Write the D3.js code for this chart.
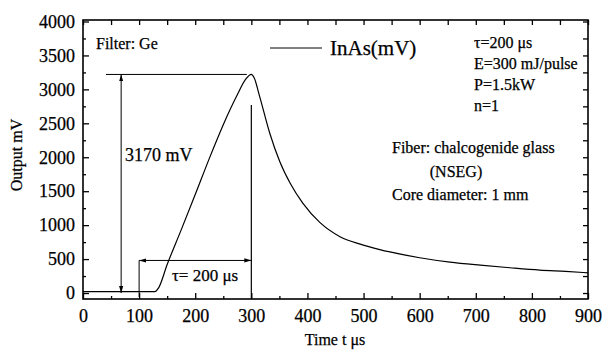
<!DOCTYPE html>
<html>
<head>
<meta charset="utf-8">
<script src="https://cdn.jsdelivr.net/npm/d3@7"></script>
<style>
body { margin:0; background:#fff; }
text { font-family: "Liberation Serif", "DejaVu Serif", serif; fill:#000; stroke:#000; stroke-width:0.25px; }
</style>
</head>
<body>
<script>
var w = 603, h = 352;

// InAs detector output
var timeUs = [0, 50, 100, 128, 135, 150, 175, 200, 225, 250, 275, 290, 300, 305, 315, 333, 351, 369, 392, 422, 458, 494, 529, 547, 600, 654, 708, 761, 814, 860, 900];
var outputMv = [20, 22, 20, 22, 80, 420, 930, 1450, 1980, 2480, 2920, 3150, 3220, 3170, 2890, 2350, 1930, 1620, 1320, 1040, 830, 720, 640, 605, 520, 455, 410, 372, 338, 318, 298];

var xTicks = [0, 100, 200, 300, 400, 500, 600, 700, 800, 900];
var yTicks = [0, 500, 1000, 1500, 2000, 2500, 3000, 3500, 4000];

var peakMv = 3220, peakLabel = "3170 mV";
var tauStart = 100, tauEnd = 300, tauLabel = "τ= 200 μs";

var infoLines = ["τ=200 μs", "E=300 mJ/pulse", "P=1.5kW", "n=1"];
var fiberLines = ["Fiber: chalcogenide glass", "(NSEG)", "Core diameter: 1 mm"];

var x = d3.scaleLinear().domain([0, 900]).range([83, 588]);
var y = d3.scaleLinear().domain([-88, 4022]).range([299, 20]);

var svg = d3.select("body").append("svg")
	.attr("width", w)
	.attr("height", h)

var defs = svg.append("defs")
defs.append("marker").attr("id", "arr")
	.attr("viewBox", "0 0 10 10").attr("refX", 10).attr("refY", 5)
	.attr("markerWidth", 7).attr("markerHeight", 7)
	.attr("orient", "auto-start-reverse")
	.append("path").attr("d", "M0,2 L10,5 L0,8 z").style("fill", "#000")

// axes, ticks pointing inward
function styleAxis(g) {
	g.attr("font-family", null)
	g.select(".domain").remove()
	g.selectAll("line").style("stroke", "#000").style("stroke-width", 1.3)
	g.selectAll("text").style("font-size", "18px")
}

var minorX = d3.range(50, 900, 100), minorY = d3.range(250, 4000, 500);

svg.append("g").attr("transform", "translate(0,299)")
	.call(d3.axisBottom(x).tickValues(xTicks).tickSize(-6).tickPadding(10).tickFormat(d3.format("d")))
	.call(styleAxis)
svg.append("g").attr("transform", "translate(0,299)")
	.call(d3.axisBottom(x).tickValues(minorX).tickSize(-3).tickFormat(""))
	.call(styleAxis)
svg.append("g").attr("transform", "translate(0,20)")
	.call(d3.axisTop(x).tickValues(xTicks.concat(minorX)).tickSize(-5).tickFormat(""))
	.call(styleAxis)

svg.append("g").attr("transform", "translate(83,0)")
	.call(d3.axisLeft(y).tickValues(yTicks).tickSize(-6).tickPadding(8).tickFormat(d3.format("d")))
	.call(styleAxis)
svg.append("g").attr("transform", "translate(83,0)")
	.call(d3.axisLeft(y).tickValues(minorY).tickSize(-3).tickFormat(""))
	.call(styleAxis)
svg.append("g").attr("transform", "translate(588,0)")
	.call(d3.axisRight(y).tickValues(yTicks.concat(minorY)).tickSize(-5).tickFormat(""))
	.call(styleAxis)

svg.append("rect")
	.attr("x", 83).attr("y", 20).attr("width", 588 - 83).attr("height", 299 - 20)
	.style("fill", "none").style("stroke", "#000").style("stroke-width", 1.6)

// curve
var line = d3.line()
	.x(function(d, i){ return x(timeUs[i]); })
	.y(function(d){ return y(d); })
	.curve(d3.curveMonotoneX)
svg.append("path")
	.datum(outputMv)
	.attr("d", line)
	.style("fill", "none").style("stroke", "#000").style("stroke-width", 1.2)

// 3170 mV annotation
svg.append("line")
	.attr("x1", x(41)).attr("x2", x(292)).attr("y1", y(peakMv)).attr("y2", y(peakMv))
	.style("stroke", "#000").style("stroke-width", 1)
svg.append("line")
	.attr("x1", x(68)).attr("x2", x(68)).attr("y1", y(peakMv)).attr("y2", y(0))
	.attr("marker-start", "url(#arr)").attr("marker-end", "url(#arr)")
	.style("stroke", "#000").style("stroke-width", 1)
svg.append("text").attr("x", 125).attr("y", 161).style("font-size", "18px").text(peakLabel)

// tau bracket
svg.append("line")
	.attr("x1", x(tauStart)).attr("x2", x(tauStart)).attr("y1", y(480)).attr("y2", y(-60))
	.style("stroke", "#000").style("stroke-width", 1)
svg.append("line")
	.attr("x1", x(tauEnd)).attr("x2", x(tauEnd)).attr("y1", y(2770)).attr("y2", y(-88))
	.style("stroke", "#000").style("stroke-width", 1.2)
svg.append("line")
	.attr("x1", x(tauStart)).attr("x2", x(tauEnd)).attr("y1", y(480)).attr("y2", y(480))
	.attr("marker-start", "url(#arr)").attr("marker-end", "url(#arr)")
	.style("stroke", "#000").style("stroke-width", 1)
svg.append("text").attr("x", 172).attr("y", 281).style("font-size", "17px").text(tauLabel)

// legend
svg.append("line").attr("x1", 270).attr("x2", 322).attr("y1", 48).attr("y2", 48)
	.style("stroke", "#000").style("stroke-width", 1)
svg.append("text").attr("x", 330).attr("y", 55).style("font-size", "21px").text("InAs(mV)")

svg.append("text").attr("x", 96).attr("y", 49).style("font-size", "16px").text("Filter: Ge")

svg.append("g").selectAll("text")
	.data(infoLines)
	.enter()
	.append("text")
	.attr("x", 474)
	.attr("y", function(d, i){ return 48 + i * 21; })
	.style("font-size", "16px")
	.text(function(d){ return d; })

svg.append("g").selectAll("text")
	.data(fiberLines)
	.enter()
	.append("text")
	.attr("x", function(d, i){ return i == 1 ? 456 : 392; })
	.attr("text-anchor", function(d, i){ return i == 1 ? "middle" : "start"; })
	.attr("y", function(d, i){ return 153 + i * 23.5; })
	.style("font-size", "16px")
	.text(function(d){ return d; })

// axis titles
svg.append("text").attr("x", 335).attr("y", 345).attr("text-anchor", "middle")
	.style("font-size", "16px").text("Time  t  μs")
svg.append("text").attr("transform", "translate(22,155) rotate(-90)").attr("text-anchor", "middle")
	.style("font-size", "16px").text("Output  mV")
</script>
</body>
</html>
